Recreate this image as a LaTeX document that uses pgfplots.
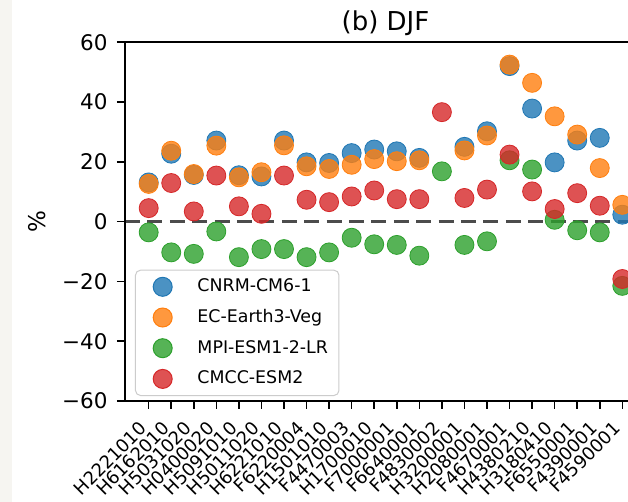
\documentclass[border=0pt]{standalone}
\usepackage{fontspec}
\setmainfont{DejaVu Sans}
\usepackage{pgfplots}
\usepackage{pgfplotstable}
\pgfplotsset{compat=1.18}

\definecolor{tabblue}{HTML}{1F77B4}
\definecolor{taborange}{HTML}{FF7F0E}
\definecolor{tabgreen}{HTML}{2CA02C}
\definecolor{tabred}{HTML}{D62728}
\definecolor{legendedge}{HTML}{CCCCCC}
\definecolor{sideband}{HTML}{F6F5F1}

% DJF change (%) per station and model
\pgfplotstableread{
idx cnrm  ecearth mpi   cmcc
1   13.1  12.6   -3.6   4.5
2   22.7  23.7   -10.3  12.9
3   15.6  15.9   -10.8  3.4
4   27.1  25.4   -3.3   15.4
5   15.5  14.8   -11.9  5.1
6   15.1  16.5   -9.2   2.6
7   27.1  25.5   -9.2   15.4
8   19.8  18.5   -11.9  7.3
9   19.6  17.6   -10.3  6.5
10  22.9  19.0   -5.4   8.4
11  24.1  20.9   -7.6   10.4
12  23.5  20.2   -7.8   7.5
13  21.3  20.5   -11.4  7.5
14  nan   nan     16.8  36.6
15  25.0  23.8   -7.8   7.9
16  30.2  28.8   -6.6   10.7
17  52.0  52.5    20.5  22.4
18  37.8  46.4    17.4  10.1
19  19.8  35.2    0.6   4.2
20  27.1  29.1   -2.9   9.5
21  28.0  17.9   -3.6   5.3
22  2.3   5.6    -21.5 -19.2
}\djf

\begin{document}
\begin{tikzpicture}
\fill[white] (0pt,0pt) rectangle (314pt,251pt);
\fill[sideband] (0pt,0pt) rectangle (6pt,251pt);
\begin{axis}[
  at={(62.5pt,50.5pt)}, anchor=south west,
  scale only axis, width=260.5pt, height=179.4pt,
  xmin=-0.05, xmax=23.05, ymin=-60, ymax=60,
  xtick={1,...,22},
  xticklabels={H2221010,H6162010,H5031020,H0400020,H5091010,H5011020,H6221010,F6220004,H1501010,F4470003,H1700010,F7000001,F6640001,F4830002,H3200001,H2080001,F4670001,H4380210,H3180410,F6550001,F4390001,F4590001},
  ytick={-60,-40,-20,0,20,40,60},
  yticklabels={−60,−40,−20,0,20,40,60},
  tick align=outside, tick pos=left, major tick length=4pt,
  tick style={line width=0.8pt, black},
  axis line style={line width=0.8pt, black},
  xticklabel style={font=\fontsize{9pt}{11pt}\selectfont, yshift=-10.5pt, rotate=45, anchor=south east, inner sep=0pt},
  yticklabel style={font=\fontsize{10.75pt}{13pt}\selectfont, anchor=east, inner sep=0pt, xshift=-4.5pt},
  title={(b) DJF},
  every axis title/.style={font=\fontsize{13pt}{15pt}\selectfont, at={(axis description cs:0.5,1)}, anchor=base, yshift=5.65pt, inner sep=0pt},
  ylabel={\%},
  ylabel style={font=\fontsize{11.5pt}{14pt}\selectfont, at={([xshift=-44pt]axis description cs:0,0.5)}, anchor=center, inner sep=0pt},
  legend style={at={(axis description cs:0.0192,0.0139)}, anchor=south west,
    draw=legendedge, line width=0.5pt, rounded corners=2.5pt,
    fill=white, fill opacity=0.8, text opacity=1,
    font=\fontsize{8.7pt}{10pt}\selectfont,
    inner xsep=5.5pt, inner ysep=3.3pt, row sep=5.35pt,
    nodes={inner sep=0pt, anchor=west},
    /tikz/every odd column/.append style={column sep=12.4pt}},
  legend cell align=left,
  legend image code/.code={\path (0pt,0pt); \fill[#1, fill opacity=0.8] (7.85pt,0pt) circle (4.75pt);},
  every axis plot/.append style={only marks, mark=*, mark size=4.75pt, mark options={draw=none, fill opacity=0.8}},
]
\addplot[color=tabblue] table[x=idx, y=cnrm] {\djf};
\addlegendentry{CNRM-CM6-1}
\addplot[color=taborange] table[x=idx, y=ecearth] {\djf};
\addlegendentry{EC-Earth3-Veg}
\addplot[color=tabgreen] table[x=idx, y=mpi] {\djf};
\addlegendentry{MPI-ESM1-2-LR}
\addplot[color=tabred] table[x=idx, y=cmcc] {\djf};
\addlegendentry{CMCC-ESM2}
% zero reference line
\addplot[forget plot, no marks, sharp plot, color=black, opacity=0.7, line width=1.8pt, dash pattern=on 7.5pt off 3.7pt] coordinates {(-0.05,0) (23.05,0)};
\end{axis}
\pgfresetboundingbox
\path[use as bounding box] (0pt,0pt) rectangle (314pt,251pt);
\end{tikzpicture}
\end{document}
